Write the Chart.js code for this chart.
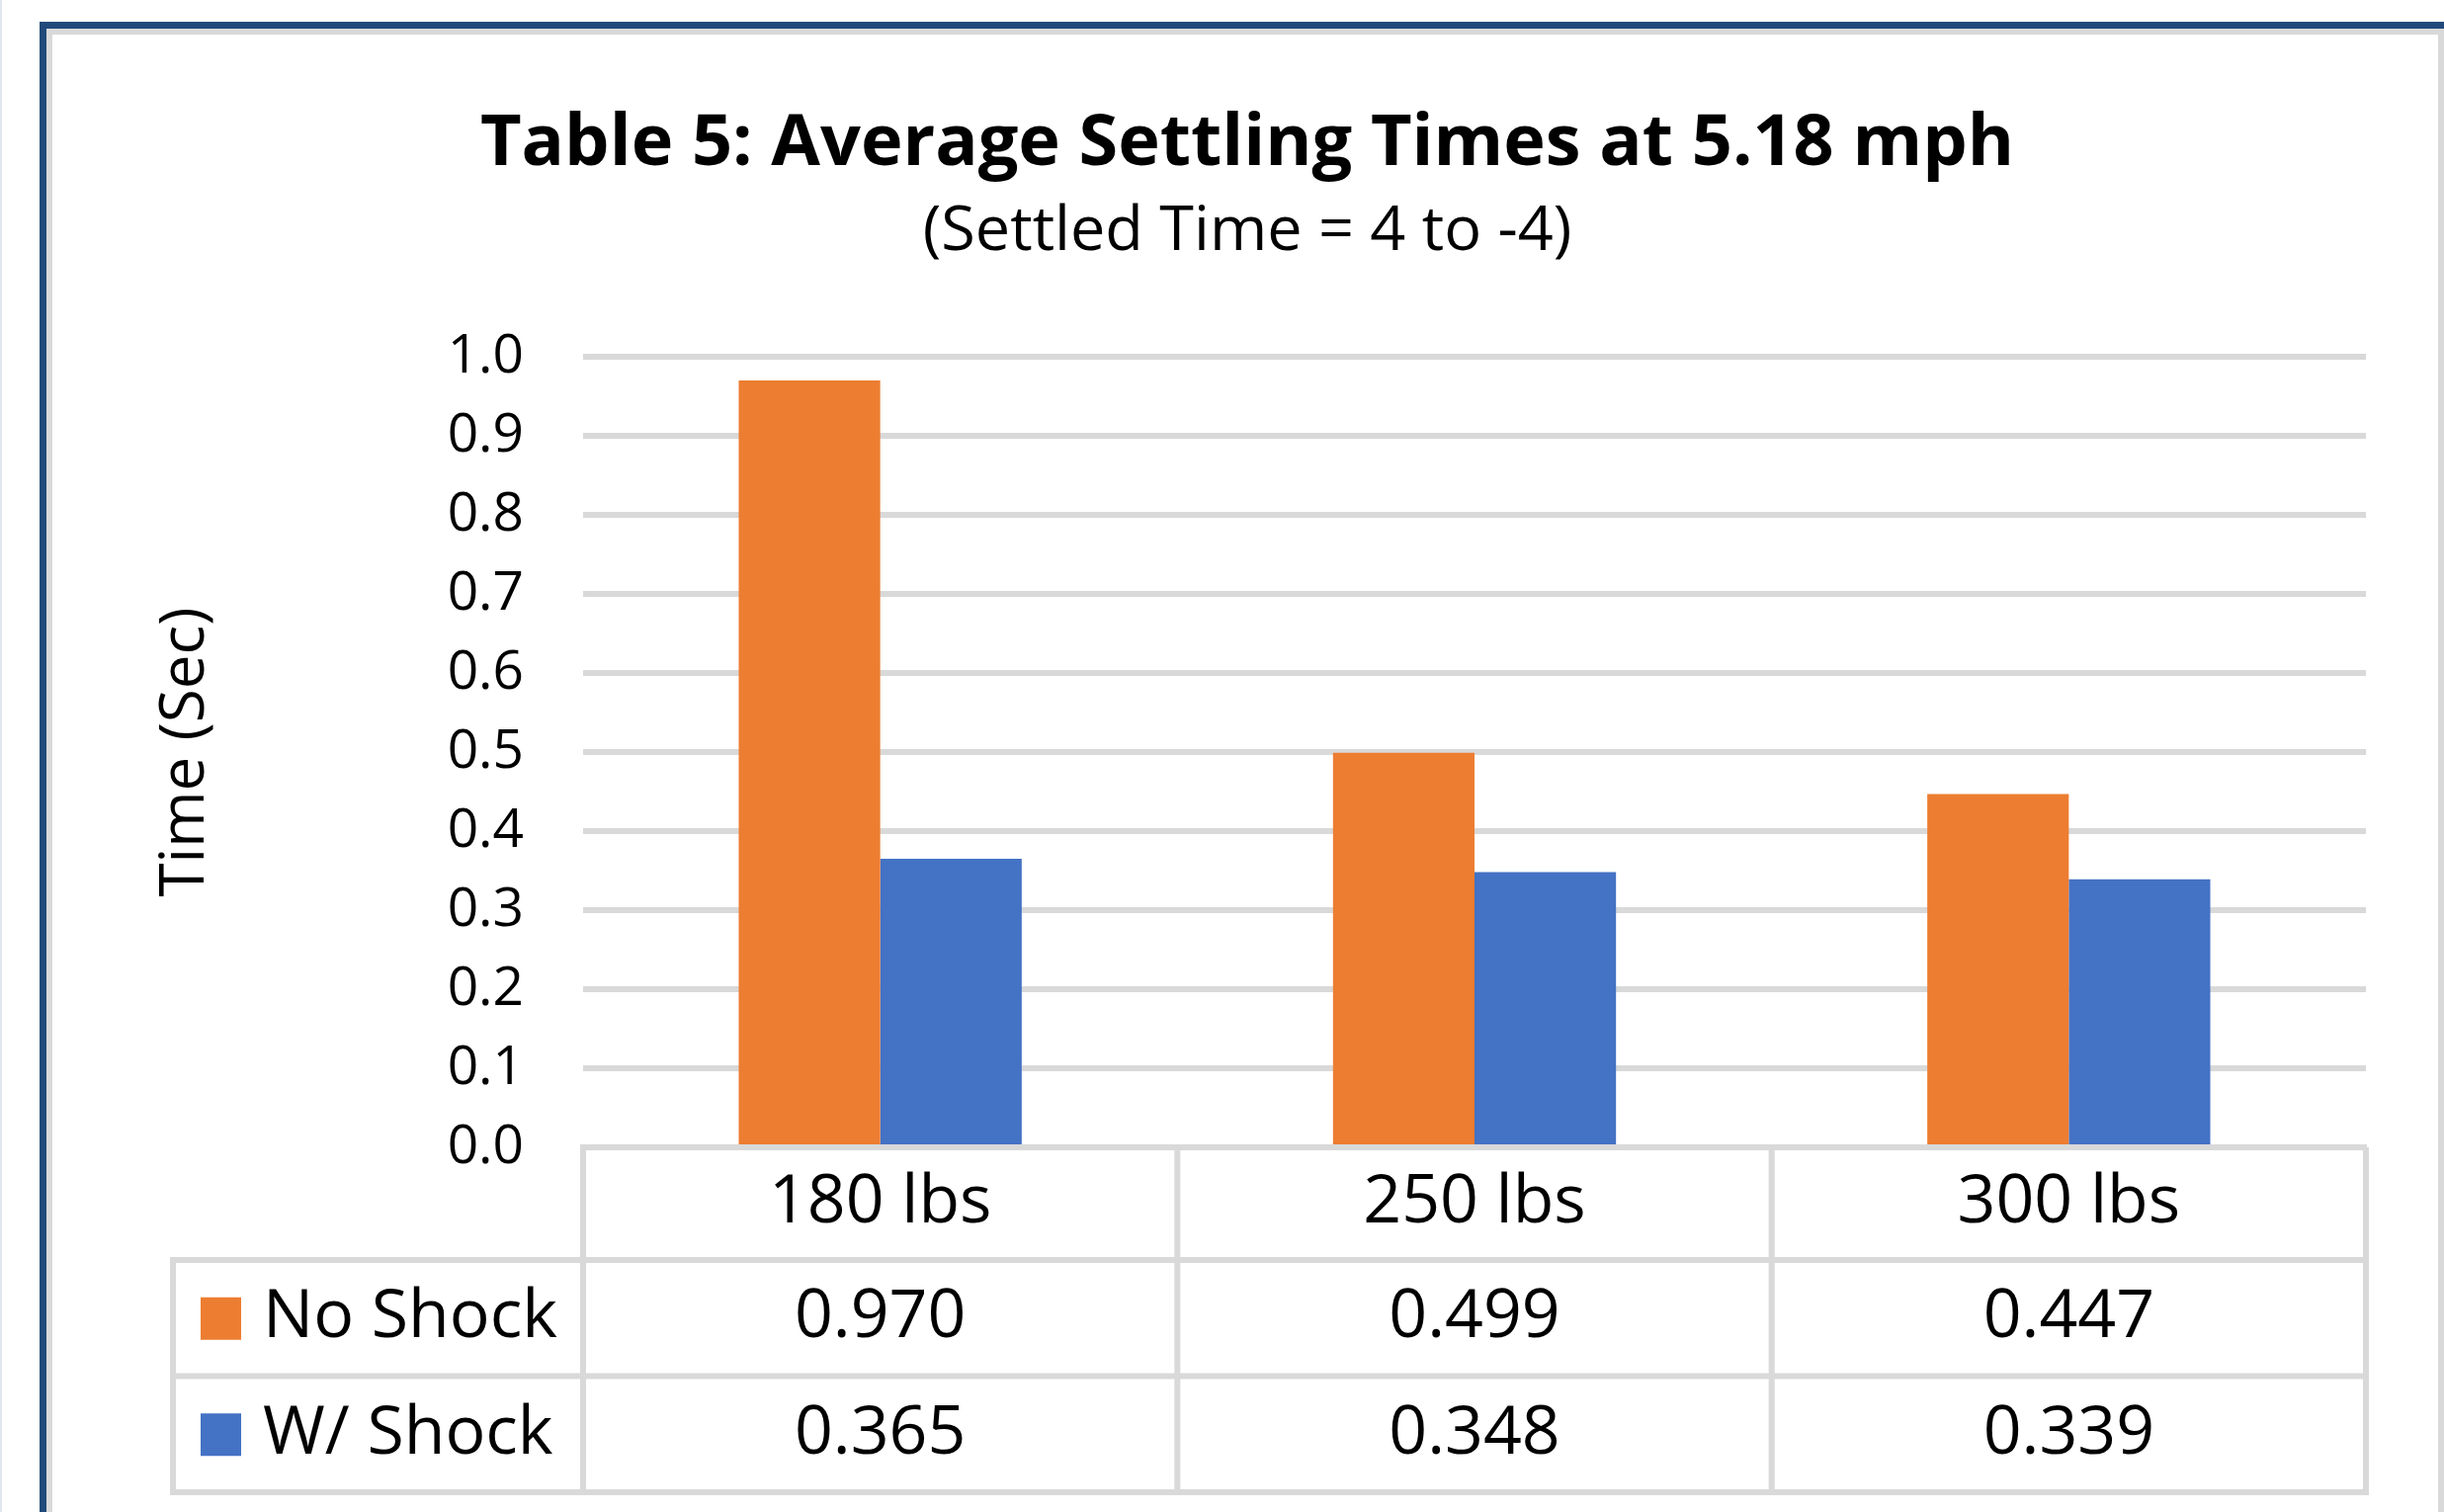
<!DOCTYPE html>
<html>
<head>
<meta charset="utf-8">
<title>Table 5: Average Settling Times at 5.18 mph</title>
<script src="https://cdn.jsdelivr.net/npm/chart.js@4.4.1/dist/chart.umd.min.js"></script>
<style>
    html, body { margin: 0; padding: 0; background: #fff; overflow: hidden; }
    #edge { position: absolute; left: 0; top: 0; width: 2px; height: 1530px; background: #e1e7ee; }
    #frame { position: absolute; left: 40px; top: 22px; width: 2500px; height: 1600px;
             border-left: 7px solid #214a7b; border-top: 7px solid #214a7b; }
    #inner { position: absolute; left: 47px; top: 29px; width: 2414px; height: 1600px;
             border-left: 6px solid #d9d9d9; border-top: 6px solid #d9d9d9; border-right: 6px solid #d9d9d9; }
    #chart { position: absolute; left: 0; top: 0; }
</style>
</head>
<body>
<div id="edge"></div>
<div id="frame"></div>
<div id="inner"></div>
<canvas id="chart" width="2473" height="1530"></canvas>
<script>
// Chart data
const categories = ['180 lbs', '250 lbs', '300 lbs'];
const seriesNames = ['No Shock', 'W/ Shock'];
const noShock = [0.970, 0.499, 0.447];
const withShock = [0.365, 0.348, 0.339];
const seriesColors = ['#ed7d31', '#4472c4'];

const gridGray = '#d9d9d9';
Chart.defaults.font.family = "'Open Sans', sans-serif";
Chart.defaults.color = '#000';

// Draws the data table (legend keys + values) under the x axis
const dataTable = {
    id: 'dataTable',
    afterDraw(chart) {
        const ctx = chart.ctx;
        const xs = chart.scales.x;
        const area = chart.chartArea;
        const catW = (area.right - area.left) / categories.length;
        const headTop = area.bottom;
        const headBottom = xs.bottom;
        const rowH = 117.5;
        const tableLeft = 175;
        const tableBottom = headBottom + rowH * 2;
        const rows = [noShock, withShock];

        ctx.save();
        ctx.strokeStyle = gridGray;
        ctx.lineWidth = 6;
        ctx.beginPath();
        for (let r = 0; r <= 2; r++) {
            const y = headBottom + r * rowH;
            ctx.moveTo(tableLeft - 3, y);
            ctx.lineTo(area.right + 3, y);
        }
        for (let i = 0; i <= categories.length; i++) {
            const x = area.left + i * catW;
            ctx.moveTo(x, headTop);
            ctx.lineTo(x, tableBottom + 3);
        }
        ctx.moveTo(tableLeft, headBottom);
        ctx.lineTo(tableLeft, tableBottom + 3);
        ctx.stroke();

        ctx.font = "68px 'Open Sans', sans-serif";
        ctx.fillStyle = '#000';
        ctx.textBaseline = 'middle';
        rows.forEach((vals, r) => {
            const cy = headBottom + r * rowH + rowH / 2;
            // legend key
            ctx.fillStyle = seriesColors[r];
            ctx.fillRect(203, cy - 21, 41, 43);
            ctx.fillStyle = '#000';
            ctx.textAlign = 'left';
            ctx.fillText(seriesNames[r], 266, cy);
            // values
            ctx.textAlign = 'center';
            vals.forEach((v, i) => {
                ctx.fillText(v.toFixed(3), xs.getPixelForValue(i), cy);
            });
        });
        ctx.restore();
    }
};

const ctx = document.getElementById('chart').getContext('2d');
const myChart = new Chart(ctx, {
    type: 'bar',
    data: {
        labels: categories,
        datasets: [
            { label: seriesNames[0], data: noShock, backgroundColor: seriesColors[0] },
            { label: seriesNames[1], data: withShock, backgroundColor: seriesColors[1] }
        ]
    },
    options: {
        responsive: false,
        animation: false,
        devicePixelRatio: 1,
        layout: { padding: { left: 130, top: 0, right: 79, bottom: 255 } },
        datasets: {
            bar: { categoryPercentage: 1 / 2.1, barPercentage: 1, borderWidth: 0 }
        },
        plugins: {
            legend: { display: false },
            tooltip: { enabled: false },
            title: {
                display: true,
                text: 'Table 5: Average Settling Times at 5.18 mph',
                color: '#000',
                font: { size: 72, weight: 'bold' },
                padding: { top: 103, bottom: 7.8 }
            },
            subtitle: {
                display: true,
                text: '(Settled Time = 4 to -4)',
                color: '#000',
                font: { size: 63 },
                padding: { top: 0, bottom: 88.2 }
            }
        },
        scales: {
            x: {
                grid: { display: false, drawTicks: false },
                border: { display: true, color: gridGray, width: 6 },
                ticks: { font: { size: 68 }, padding: 16, maxRotation: 0, color: '#000' },
                afterFit: s => { s.height = 114; }
            },
            y: {
                min: 0,
                max: 1,
                grid: { color: gridGray, lineWidth: 6, drawTicks: false },
                border: { display: false },
                ticks: {
                    stepSize: 0.1,
                    padding: 60,
                    font: { size: 55 },
                    color: '#000',
                    callback: v => v.toFixed(1)
                },
                title: {
                    display: true,
                    text: 'Time (Sec)',
                    color: '#000',
                    font: { size: 62 },
                    padding: { top: 21, bottom: 0 }
                },
                afterFit: s => { s.width = 460; }
            }
        }
    },
    plugins: [dataTable]
});
</script>
</body>
</html>
